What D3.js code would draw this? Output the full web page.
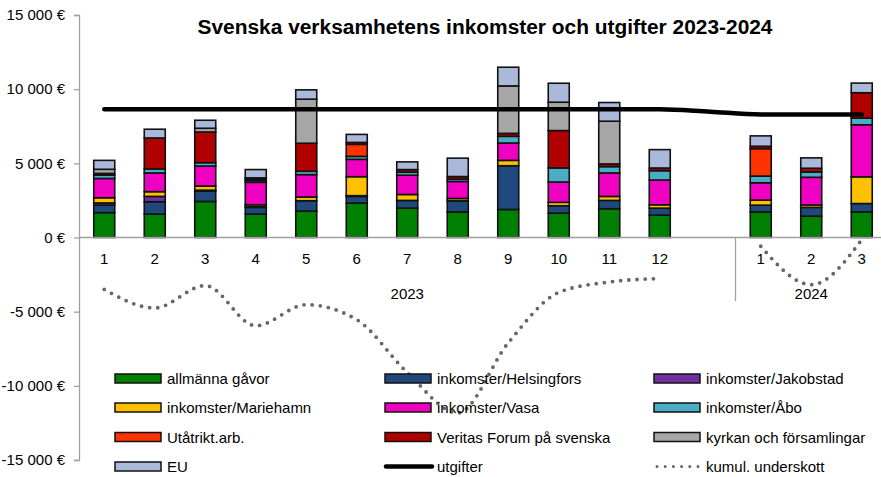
<!DOCTYPE html>
<html>
<head>
<meta charset="utf-8">
<script src="https://cdn.jsdelivr.net/npm/d3@7"></script>
<style>
  body { margin: 0; background: #fff; }
  svg { display: block; font-family: "Liberation Sans", Arial, sans-serif; }
</style>
</head>
<body>
<svg id="chart" width="881" height="477"></svg>
<script>
// kategorier: månad + år (tom plats mellan 2023 och 2024)
var months = ["1","2","3","4","5","6","7","8","9","10","11","12","","1","2","3"];
var years = ["2023","2023","2023","2023","2023","2023","2023","2023","2023","2023","2023","2023","2023","2024","2024","2024"];
var yearLabels = ["2023", "2024"];

var seriesNames = ["allmänna gåvor","inkomster/Helsingfors","inkomster/Jakobstad","inkomster/Mariehamn",
  "inkomster/Vasa","inkomster/Åbo","Utåtrikt.arb.","Veritas Forum på svenska","kyrkan och församlingar","EU"];
var seriesColors = ["#008000","#1f497d","#7030a0","#ffc000","#f000c0","#4bacc6","#ff3300","#b00000","#a6a6a6","#aab8d9"];

var allmanna    = [1680,1580,2430,1580,1780,2320,1980,1730,1890,1640,1940,1510,null,1730,1440,1730];
var helsingfors = [500,830,700,450,700,450,520,740,2950,500,560,470,null,450,590,560];
var jakobstad   = [150,360,60,50,0,50,0,0,0,0,0,0,null,0,0,0];
var mariehamn   = [350,320,280,130,250,1280,400,160,360,230,270,225,null,340,160,1800];
var vasa        = [1300,1260,1350,1510,1510,1170,1300,1150,1170,1370,1580,1670,null,1170,1870,3510];
var abo         = [220,270,225,120,225,200,200,150,450,950,430,630,null,450,360,450];
var utatrikt    = [0,0,0,0,0,810,0,0,0,0,0,0,null,1850,0,0];
var veritas     = [120,2090,2070,100,1890,130,180,180,200,2520,180,180,null,160,250,1710];
var kyrkan      = [280,0,250,80,2970,0,0,0,3200,1910,2880,0,null,0,0,0];
var eu          = [600,590,540,560,630,540,520,1240,1260,1280,1260,1240,null,700,700,650];

var utgifter = [8650,8650,8650,8650,8650,8650,8650,8650,8650,8650,8650,8650,8480,8300,8300,8300];
var underskott = [-3500,-4750,-3240,-5950,-4530,-5540,-9100,-11830,-7100,-3700,-3000,-2770,null,-590,-3180,-140];

var yTicks = [-15000,-10000,-5000,0,5000,10000,15000];

var seriesData = [allmanna,helsingfors,jakobstad,mariehamn,vasa,abo,utatrikt,veritas,kyrkan,eu];

var svg = d3.select("#chart");
var keys = months.map(function (m, i) { return i; });

var x = d3.scaleBand().domain(keys).range([79, 887]).paddingInner(0).paddingOuter(0);
var y = d3.scaleLinear().domain([-15000, 15000]).range([460, 15]);
var barW = 21;

function fmt(v) {
  var s = d3.format(",")(v).replace(/,/g, " ");
  return s.replace("−", "-") + " €";
}

// y-axel
var yAxis = svg.append("g").attr("transform", "translate(79,0)")
  .call(d3.axisLeft(y).tickValues(yTicks).tickSize(5).tickPadding(9).tickFormat(fmt));
yAxis.select(".domain").attr("stroke", "#a0a0a0").attr("stroke-width", 1.3);
yAxis.selectAll(".tick line").attr("stroke", "#a0a0a0").attr("stroke-width", 1.3);
yAxis.selectAll(".tick text").attr("font-size", 15).attr("fill", "#000")
  .attr("font-family", "Liberation Sans, Arial, sans-serif");

// staplar
var table = keys.map(function (i) {
  var row = { i: i };
  seriesData.forEach(function (s, k) { row[k] = s[i] || 0; });
  return row;
});
var stack = d3.stack().keys(d3.range(seriesData.length));
var layers = stack(table);

svg.append("g").selectAll("g").data(layers).join("g")
  .attr("fill", function (d, k) { return seriesColors[k]; })
  .selectAll("rect").data(function (d) { return d.filter(function (p) { return p[1] - p[0] > 0; }); })
  .join("rect")
  .attr("x", function (p) { return x(p.data.i) + x.bandwidth() / 2 - barW / 2; })
  .attr("width", barW)
  .attr("y", function (p) { return y(p[1]); })
  .attr("height", function (p) { return y(p[0]) - y(p[1]); })
  .attr("stroke", "#111")
  .attr("stroke-width", 1.6);

// nollinje och kategoriaxel
svg.append("line").attr("x1", 79).attr("x2", 881).attr("y1", y(0)).attr("y2", y(0))
  .attr("stroke", "#a0a0a0").attr("stroke-width", 1.3);
svg.append("line").attr("x1", x(13)).attr("x2", x(13)).attr("y1", y(0)).attr("y2", 301)
  .attr("stroke", "#a0a0a0").attr("stroke-width", 1.3);

svg.append("g").selectAll("text").data(keys).join("text")
  .attr("x", function (i) { return x(i) + x.bandwidth() / 2; })
  .attr("y", 264)
  .attr("text-anchor", "middle")
  .attr("font-size", 15)
  .text(function (i) { return months[i]; });

yearLabels.forEach(function (yr) {
  var idx = keys.filter(function (i) { return years[i] === yr; });
  var x0 = x(idx[0]), x1 = x(idx[idx.length - 1]) + x.bandwidth();
  svg.append("text").attr("x", (x0 + x1) / 2).attr("y", 299)
    .attr("text-anchor", "middle").attr("font-size", 15).text(yr);
});

// linjer
var cx = function (d, i) { return x(i) + x.bandwidth() / 2; };
var lineU = d3.line().x(cx).y(function (d) { return y(d); })
  .defined(function (d) { return d !== null; }).curve(d3.curveMonotoneX);

svg.append("path").datum(utgifter).attr("d", lineU)
  .attr("fill", "none").attr("stroke", "#000").attr("stroke-width", 4.5)
  .attr("stroke-linecap", "round");

svg.append("path").datum(underskott).attr("d", lineU)
  .attr("fill", "none").attr("stroke", "#666").attr("stroke-width", 3.8)
  .attr("stroke-linecap", "round").attr("stroke-dasharray", "0 8.2");

// rubrik
svg.append("text").attr("x", 485).attr("y", 34).attr("text-anchor", "middle")
  .attr("font-size", 20).attr("font-weight", "bold")
  .attr("textLength", 575).attr("lengthAdjust", "spacingAndGlyphs")
  .text("Svenska verksamhetens inkomster och utgifter 2023-2024");

// legend
var legendItems = seriesNames.map(function (n, k) { return { name: n, type: "bar", color: seriesColors[k] }; });
legendItems.push({ name: "utgifter", type: "line" });
legendItems.push({ name: "kumul. underskott", type: "dot" });

var colX = [115, 385, 654];
var rowY = [378.5, 407.5, 437, 466.5];

var lg = svg.append("g").selectAll("g").data(legendItems).join("g")
  .attr("transform", function (d, i) {
    return "translate(" + colX[i % 3] + "," + rowY[Math.floor(i / 3)] + ")";
  });

lg.filter(function (d) { return d.type === "bar"; }).append("rect")
  .attr("x", 0).attr("y", -4.5).attr("width", 46).attr("height", 9)
  .attr("fill", function (d) { return d.color; })
  .attr("stroke", "#111").attr("stroke-width", 1.5);

lg.filter(function (d) { return d.type === "line"; }).append("line")
  .attr("x1", 1).attr("x2", 47).attr("y1", 0).attr("y2", 0)
  .attr("stroke", "#000").attr("stroke-width", 4.5).attr("stroke-linecap", "round");

lg.filter(function (d) { return d.type === "dot"; }).append("line")
  .attr("x1", 3).attr("x2", 46).attr("y1", 0).attr("y2", 0)
  .attr("stroke", "#666").attr("stroke-width", 3).attr("stroke-linecap", "round")
  .attr("stroke-dasharray", "0 8.2");

lg.append("text").attr("x", 52).attr("y", 5.5).attr("font-size", 15)
  .text(function (d) { return d.name; });
</script>
</body>
</html>
